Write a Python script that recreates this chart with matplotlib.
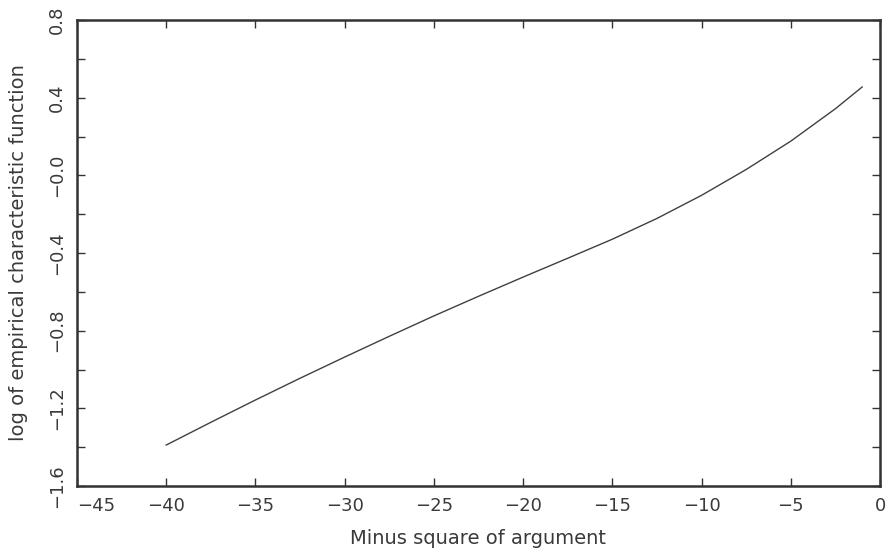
import matplotlib
matplotlib.use("Agg")
import matplotlib.pyplot as plt
from matplotlib.ticker import MultipleLocator

# Data
x_vals = [-40, -37.5, -35, -32.5, -30, -27.5, -25, -22.5, -20, -17.5,
          -15, -12.5, -10, -7.5, -5, -2.5, -1]
y_vals = [-1.389, -1.272, -1.157, -1.045, -0.936, -0.829, -0.724, -0.623,
          -0.524, -0.427, -0.329, -0.222, -0.103, 0.030, 0.176, 0.343, 0.455]

x_ticks = [-45, -40, -35, -30, -25, -20, -15, -10, -5, 0]
x_tick_labels = ["\u221245", "\u221240", "\u221235", "\u221230", "\u221225",
                 "\u221220", "\u221215", "\u221210", "\u22125", "0"]
y_ticks = [-1.6, -1.2, -0.8, -0.4, 0.0, 0.4, 0.8]
y_tick_labels = ["\u22121.6", "\u22121.2", "\u22120.8", "\u22120.4", "\u22120.0", "0.4", "0.8"]

x_label = "Minus square of argument"
y_label = "log of empirical characteristic function"

txt = "#3a3a3a"
plt.rcParams['font.family'] = ['DejaVu Sans']

fig = plt.figure(figsize=(8.91, 5.56), dpi=100)
ax = fig.add_axes([77/891, 1 - 486/556, (880-77)/891, (486-20)/556])

ax.plot(x_vals, y_vals, color="#404040", lw=1.0)

ax.set_xlim(-45, 0)
ax.set_ylim(-1.6, 0.8)

ax.set_xticks(x_ticks)
ax.set_xticklabels(x_tick_labels)
ax.set_yticks(y_ticks)
ax.set_yticklabels(y_tick_labels, rotation=90, va='center')
ax.yaxis.set_minor_locator(MultipleLocator(0.2))

ax.tick_params(which='both', direction='in', top=True, right=True,
               length=6, width=1.0, color="#333333", labelsize=13,
               labelcolor=txt, pad=8)
ax.tick_params(which='minor', length=6)

# shift first x tick label right so it clears the y labels
xl = ax.get_xticklabels()
xl[0].set_horizontalalignment('left')

for s in ax.spines.values():
    s.set_linewidth(1.8)
    s.set_color("#333333")

ax.set_xlabel(x_label, fontsize=14, color=txt, labelpad=10)
ax.set_ylabel(y_label, fontsize=14, color=txt, labelpad=14)

fig.savefig("out.png", dpi=100)
